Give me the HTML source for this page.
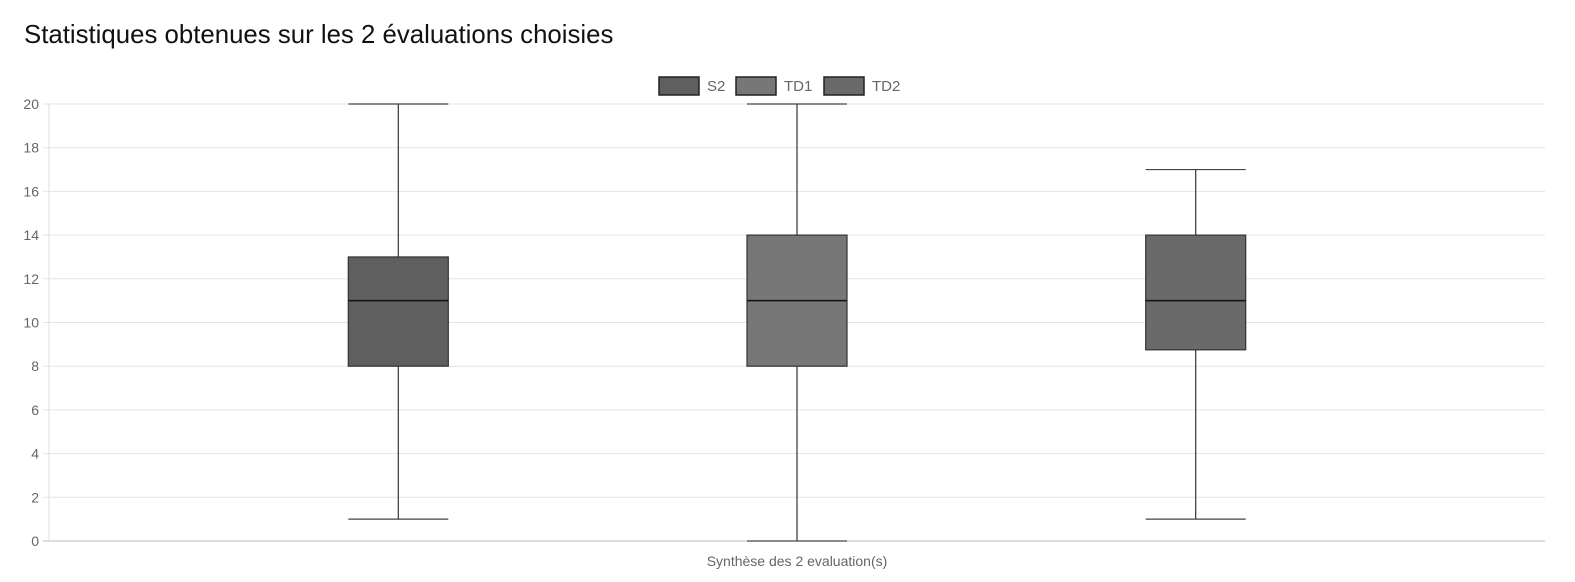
<!DOCTYPE html>
<html><head><meta charset="utf-8"><style>
body{margin:0;background:#fff;font-family:"Liberation Sans",sans-serif}
#wrap{position:relative;width:1575px;height:582px}
h1{position:absolute;left:24px;top:21px;margin:0;font-weight:normal;font-size:25.8px;color:#111}
</style></head><body>
<div id="wrap">
<h1>Statistiques obtenues sur les 2 évaluations choisies</h1>
<svg id="c" width="1575" height="582" style="position:absolute;left:0;top:0"></svg>
</div>
<script>
const seriesNames=["S2","TD1","TD2"];
const mins=[1,0,1];
const q1s=[8,8,8.75];
const medians=[11,11,11];
const q3s=[13,14,14];
const maxs=[20,20,17];
const colors=["#5f5f5f","#777777","#6a6a6a"];
const yTicks=[0,2,4,6,8,10,12,14,16,18,20];
const category="Synthèse des 2 evaluation(s)";
const NS="http://www.w3.org/2000/svg",svg=document.getElementById('c');
const L=49,R=1545,T=104,B=541,ymax=20;
const y=v=>B-(B-T)*v/ymax;
const xc=i=>797+(i-1)*398.7;
function el(t,a,p){const e=document.createElementNS(NS,t);for(const k in a)e.setAttribute(k,a[k]);(p||svg).appendChild(e);return e;}
yTicks.forEach(t=>{
 const g=el('line',{x1:L-6,x2:R,y1:y(t),y2:y(t),stroke:t===0?'#bbb':'#e5e5e5'});
 
 
 const tx=el('text',{x:L-10,y:y(t)+5,'text-anchor':'end','font-size':14,fill:'#666','font-family':'Liberation Sans'});
 tx.textContent=t;
 
 
});
el('line',{x1:L,x2:L,y1:T,y2:B,stroke:'#ddd'});
const xl=el('text',{x:797,y:566,'text-anchor':'middle','font-size':14,fill:'#666','font-family':'Liberation Sans'});
xl.textContent=category;


seriesNames.forEach((n,i)=>{
 const g=el('g',{});
 
 
 const c=xc(i),w=50;
 el('line',{x1:c,x2:c,y1:y(maxs[i]),y2:y(q3s[i]),stroke:'#333','stroke-width':1.2},g);
 el('line',{x1:c,x2:c,y1:y(q1s[i]),y2:y(mins[i]),stroke:'#333','stroke-width':1.2},g);
 el('line',{x1:c-w,x2:c+w,y1:y(maxs[i]),y2:y(maxs[i]),stroke:'#444','stroke-width':1.2},g);
 el('line',{x1:c-w,x2:c+w,y1:y(mins[i]),y2:y(mins[i]),stroke:'#444','stroke-width':1.2},g);
 el('rect',{x:c-w,y:y(q3s[i]),width:2*w,height:y(q1s[i])-y(q3s[i]),fill:colors[i],stroke:'#333','stroke-width':1.2},g);
 el('line',{x1:c-w,x2:c+w,y1:y(medians[i]),y2:y(medians[i]),stroke:'#111','stroke-width':1.5},g);
});
const lx=[658,735,823];
seriesNames.forEach((n,i)=>{
 const g=el('g',{});
 
 
 el('rect',{x:lx[i]+1,y:77,width:40,height:18,fill:colors[i],stroke:'#222','stroke-width':1.5},g);
 const t=el('text',{x:lx[i]+49,y:91,'font-size':15,fill:'#666','font-family':'Liberation Sans'},g);
 t.textContent=n;
});
</script>
</body></html>
